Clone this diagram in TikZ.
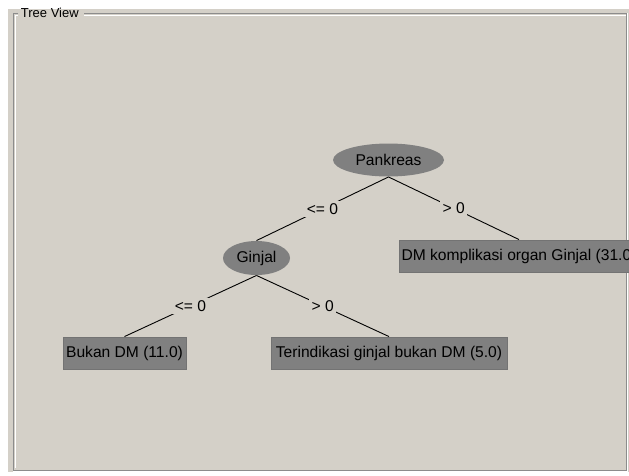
\documentclass[tikz,border=0pt]{standalone}
\usepackage{fontspec}
\setmainfont{Liberation Sans}
\usetikzlibrary{shapes.geometric}

\definecolor{panel}{RGB}{212,208,200}
\definecolor{nodegray}{RGB}{128,128,128}

\tikzset{
  split/.style={ellipse, fill=nodegray, inner sep=0pt, font=\fontsize{15.6}{17}\selectfont},
  leaf/.style={rectangle, draw=black!55, fill=nodegray, minimum height=32pt, inner sep=0pt, font=\fontsize{15.6}{17}\selectfont},
  cond/.style={fill=panel, inner sep=2.5pt, font=\fontsize{15.6}{17}\selectfont},
}

\begin{document}
\begin{tikzpicture}[x=1pt,y=-1pt,line width=0.9pt]
    \useasboundingbox (0,0) rectangle (629,475);
    \fill[white] (0,0) rectangle (629,475);
    \fill[panel] (8,9) rectangle (629,472);
    % etched frame with the title in the top edge
    \draw[line width=1pt,black!45] (18,13) -- (13,13) -- (13,470) -- (626,470) -- (626,13) -- (84,13);
    \draw[line width=1pt,white] (18,15) -- (15,15) -- (15,468) (13,471.5) -- (627.5,471.5) -- (627.5,13) (626,15) -- (84,15);
    \node[anchor=west,inner sep=0pt,font=\fontsize{13}{15}\selectfont] (title) at (20.5,13) {Tree View};

    % the tree itself runs out past the right edge of the panel
    \begin{scope}
      \clip (8,9) rectangle (629,472);
      \node[split,minimum width=111pt,minimum height=33pt] (pankreas) at (388.5,160) {Pankreas};
      \node[split,minimum width=67pt,minimum height=34pt] (ginjal) at (256.5,258) {Ginjal};
      \node[leaf,minimum width=240pt] (komplikasi) at (519,256) {DM komplikasi organ Ginjal (31.0)};
      \node[leaf,minimum width=123pt] (bukan) at (124.5,353) {Bukan DM (11.0)};
      \node[leaf,minimum width=236pt] (terindikasi) at (389,353) {Terindikasi ginjal bukan DM (5.0)};

      \draw (pankreas.south) -- node[cond] {<= 0} (ginjal.north);
      \draw (pankreas.south) -- node[cond] {> 0} (komplikasi.north);
      \draw (ginjal.south) -- node[cond] {<= 0} (bukan.north);
      \draw (ginjal.south) -- node[cond] {> 0} (terindikasi.north);
    \end{scope}
\end{tikzpicture}
\end{document}
